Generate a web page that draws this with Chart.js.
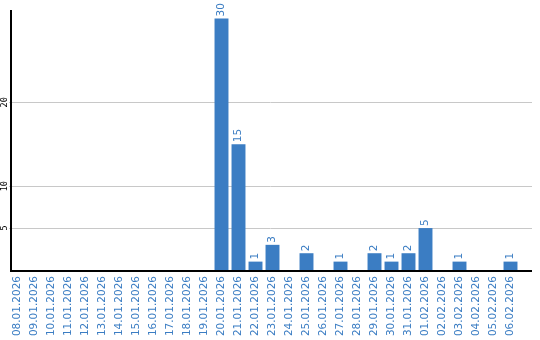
<!DOCTYPE html>
<html>
<head>
<meta charset="utf-8">
<script src="https://cdn.jsdelivr.net/npm/chart.js@4"></script>
<style>
  html, body { margin: 0; padding: 0; background: #fff; }
  #wrap { width: 540px; height: 340px; }
</style>
</head>
<body>
<div id="wrap"><canvas id="chart"></canvas></div>
<script>
const days = [
    '08.01.2026', '09.01.2026', '10.01.2026', '11.01.2026', '12.01.2026',
    '13.01.2026', '14.01.2026', '15.01.2026', '16.01.2026', '17.01.2026',
    '18.01.2026', '19.01.2026', '20.01.2026', '21.01.2026', '22.01.2026',
    '23.01.2026', '24.01.2026', '25.01.2026', '26.01.2026', '27.01.2026',
    '28.01.2026', '29.01.2026', '30.01.2026', '31.01.2026', '01.02.2026',
    '02.02.2026', '03.02.2026', '04.02.2026', '05.02.2026', '06.02.2026'
];
const counts = [
    0, 0, 0, 0, 0, 0, 0, 0, 0, 0,
    0, 0, 30, 15, 1, 3, 0, 2, 0, 1,
    0, 2, 1, 2, 5, 0, 1, 0, 0, 1
];
const yTicks = [5, 10, 20];

const blue = '#3b7dc3';

// grid, axis lines, rotated y ticks and value labels
const drawExtras = {
    id: 'drawExtras',
    beforeDatasetsDraw(chart) {
        const ctx = chart.ctx;
        const area = chart.chartArea;
        const y = chart.scales.y;
        const right = area.right + 13;
        ctx.save();
        ctx.strokeStyle = '#c8c8c8';
        ctx.lineWidth = 1;
        yTicks.forEach(v => {
            const py = Math.round(y.getPixelForValue(v)) + 0.5;
            ctx.beginPath();
            ctx.moveTo(area.left, py);
            ctx.lineTo(right, py);
            ctx.stroke();
        });
        ctx.fillStyle = '#000';
        ctx.font = '8.5px "DejaVu Sans Mono"';
        ctx.textAlign = 'center';
        ctx.textBaseline = 'middle';
        yTicks.forEach(v => {
            const py = y.getPixelForValue(v);
            ctx.save();
            ctx.translate(area.left - 4.5, py);
            ctx.rotate(-Math.PI / 2);
            ctx.fillText(String(v), 0, 0);
            ctx.restore();
        });
        ctx.restore();
    },
    afterDatasetsDraw(chart) {
        const ctx = chart.ctx;
        const area = chart.chartArea;
        const right = area.right + 13;
        ctx.save();
        ctx.strokeStyle = '#000';
        ctx.lineWidth = 2;
        ctx.beginPath();
        ctx.moveTo(area.left + 2, area.top);
        ctx.lineTo(area.left + 2, area.bottom + 1);
        ctx.lineTo(right, area.bottom + 1);
        ctx.stroke();

        ctx.fillStyle = blue;
        ctx.font = '10.5px "DejaVu Sans"';
        ctx.textAlign = 'left';
        ctx.textBaseline = 'middle';
        const meta = chart.getDatasetMeta(0);
        meta.data.forEach((bar, i) => {
            if (!counts[i]) return;
            ctx.save();
            ctx.translate(bar.x, bar.y - 2);
            ctx.rotate(-Math.PI / 2);
            ctx.fillText(String(counts[i]), 0, 0);
            ctx.restore();
        });
        ctx.restore();
    }
};

document.addEventListener('DOMContentLoaded', function () {
    const canvas = document.getElementById('chart');
    new Chart(canvas, {
        type: 'bar',
        data: {
            labels: days,
            datasets: [{
                data: counts,
                backgroundColor: blue,
                borderWidth: 0,
                barPercentage: 0.82,
                categoryPercentage: 1.0
            }]
        },
        options: {
            responsive: true,
            maintainAspectRatio: false,
            animation: false,
            layout: { padding: { top: 10, right: 21, left: 0, bottom: 0 } },
            plugins: {
                legend: { display: false },
                tooltip: { enabled: false }
            },
            scales: {
                x: {
                    grid: { display: false, drawTicks: false },
                    border: { display: false },
                    ticks: {
                        autoSkip: false,
                        minRotation: 90,
                        maxRotation: 90,
                        padding: 6,
                        color: blue,
                        font: { family: 'DejaVu Sans', size: 10.5 }
                    },
                    afterFit: (scale) => { scale.height = 70; }
                },
                y: {
                    min: 0,
                    max: 31,
                    grid: { display: false, drawTicks: false },
                    border: { display: false },
                    ticks: { display: false },
                    afterBuildTicks: (scale) => {
                        scale.ticks = yTicks.map(v => ({ value: v }));
                    },
                    afterFit: (scale) => { scale.width = 9; }
                }
            }
        },
        plugins: [drawExtras]
    });
});
</script>
</body>
</html>
